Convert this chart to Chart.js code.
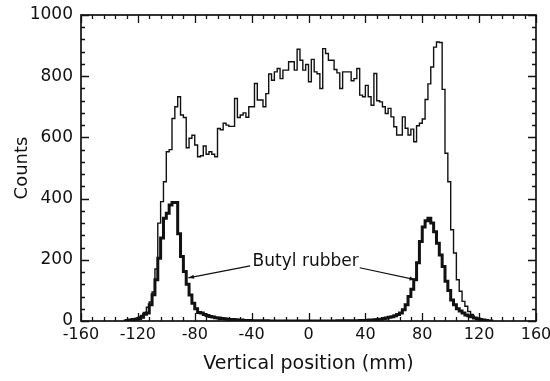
<!DOCTYPE html>
<html>
<head>
<meta charset="utf-8">
<script src="https://cdn.jsdelivr.net/npm/chart.js@4"></script>
<style>
html, body { margin: 0; padding: 0; background: #fff; }
#wrap { width: 550px; height: 381px; }
</style>
</head>
<body>
<div id="wrap"><canvas id="c" width="550" height="381"></canvas></div>
<script>
// Vertical position histogram: all events vs. butyl rubber only

// Bin left edges (mm), 2 mm bins, last entry closes the final bin
const binEdges = [
  -130,-128,-126,-124,-122,-120,-118,-116,-114,-112,
  -110,-108,-106,-104,-102,-100,-98,-96,-94,-92,
  -90,-88,-86,-84,-82,-80,-78,-76,-74,-72,
  -70,-68,-66,-64,-62,-60,-58,-56,-54,-52,
  -50,-48,-46,-44,-42,-40,-38,-36,-34,-32,
  -30,-28,-26,-24,-22,-20,-18,-16,-14,-12,
  -10,-8,-6,-4,-2,0,2,4,6,8,
  10,12,14,16,18,20,22,24,26,28,
  30,32,34,36,38,40,42,44,46,48,
  50,52,54,56,58,60,62,64,66,68,
  70,72,74,76,78,80,82,84,86,88,
  90,92,94,96,98,100,102,104,106,108,
  110,112,114,116,118,120,122,124,126,128,
  130
];

// All counts (thin line)
const totalCounts = [
  0,0,2,3,4,8,12,18,28,45,
  62,95,170,320,390,455,553,560,662,700,
  733,673,665,566,597,607,575,537,540,572,
  545,553,545,537,629,625,646,640,636,636,
  727,665,673,680,666,700,700,776,722,722,
  700,743,807,787,814,825,792,820,820,847,
  847,820,888,852,820,838,782,855,814,808,
  760,890,874,852,852,822,811,760,814,814,
  814,785,792,825,738,733,770,733,705,809,
  720,716,700,678,695,667,635,608,608,667,
  630,608,627,586,638,646,660,724,775,830,
  895,912,910,757,548,455,298,222,135,97,
  64,48,31,21,10,8,5,3,2,0
];

// Butyl rubber counts (thick line)
const butylCounts = [
  0,0,2,3,5,6,8,12,22,26,
  53,86,135,205,271,336,352,379,387,387,
  285,211,162,120,85,58,40,28,26,21,
  18,15,13,11,10,8,7,6,5,5,
  4,3,3,2,2,2,1,1,1,1,
  1,1,0,0,0,0,0,0,0,0,
  0,0,0,0,0,0,0,0,0,0,
  0,0,0,0,0,0,1,1,1,1,
  1,1,1,1,2,2,2,3,3,4,
  5,6,8,10,12,14,17,21,26,37,
  53,80,104,135,190,260,307,328,336,320,
  292,254,216,178,130,100,69,53,40,33,
  26,20,17,14,10,7,5,3,2,0
];

const xRange = [-160, 160];
const yRange = [0, 1000];
const xMajor = 40, xMinor = 8;
const yMajor = 200, yMinor = 40;

// annotation: label position and arrow tails/tips in data units
const noteText = 'Butyl rubber';
const notePos = [-2, 193];
const noteArrows = [
  { from: [-41, 180], to: [-84.5, 141] },
  { from: [36, 174], to: [75, 135] }
];

const ink = '#111';
const family = '"DejaVu Sans", sans-serif';

function steps(vals) {
  // close the last bin with a zero-height point at the final edge
  return binEdges.map((e, i) => ({ x: e, y: i < vals.length ? vals[i] : 0 }));
}

// inward tick marks on all four sides + frame
const frameTicks = {
  id: 'frameTicks',
  afterDatasetsDraw(chart) {
    const { ctx, chartArea: a, scales: { x, y } } = chart;
    ctx.save();
    ctx.strokeStyle = ink;
    ctx.lineWidth = 1.7;
    ctx.strokeRect(a.left, a.top, a.right - a.left, a.bottom - a.top);
    ctx.lineWidth = 1.3;
    ctx.beginPath();
    for (let v = xRange[0]; v <= xRange[1]; v += xMinor) {
      const px = Math.round(x.getPixelForValue(v)) + 0.5;
      const len = v % xMajor === 0 ? 8 : 4;
      ctx.moveTo(px, a.bottom); ctx.lineTo(px, a.bottom - len);
      ctx.moveTo(px, a.top); ctx.lineTo(px, a.top + len);
    }
    for (let v = yRange[0]; v <= yRange[1]; v += yMinor) {
      const py = Math.round(y.getPixelForValue(v)) + 0.5;
      const len = v % yMajor === 0 ? 8 : 4;
      ctx.moveTo(a.left, py); ctx.lineTo(a.left + len, py);
      ctx.moveTo(a.right, py); ctx.lineTo(a.right - len, py);
    }
    ctx.stroke();
    ctx.restore();
  }
};

const annotate = {
  id: 'annotate',
  afterDatasetsDraw(chart) {
    const { ctx, scales: { x, y } } = chart;
    ctx.save();
    ctx.fillStyle = ink;
    ctx.strokeStyle = ink;
    ctx.font = '17px ' + family;
    ctx.textAlign = 'center';
    ctx.textBaseline = 'middle';
    ctx.fillText(noteText, x.getPixelForValue(notePos[0]), y.getPixelForValue(notePos[1]));
    ctx.lineWidth = 1.2;
    noteArrows.forEach(ar => {
      const x0 = x.getPixelForValue(ar.from[0]), y0 = y.getPixelForValue(ar.from[1]);
      const x1 = x.getPixelForValue(ar.to[0]), y1 = y.getPixelForValue(ar.to[1]);
      ctx.beginPath();
      ctx.moveTo(x0, y0); ctx.lineTo(x1, y1);
      ctx.stroke();
      const ang = Math.atan2(y1 - y0, x1 - x0);
      ctx.beginPath();
      ctx.moveTo(x1, y1);
      ctx.lineTo(x1 - 6 * Math.cos(ang - 0.35), y1 - 6 * Math.sin(ang - 0.35));
      ctx.lineTo(x1 - 6 * Math.cos(ang + 0.35), y1 - 6 * Math.sin(ang + 0.35));
      ctx.closePath();
      ctx.fill();
    });
    ctx.restore();
  }
};

new Chart(document.getElementById('c'), {
  type: 'line',
  data: {
    datasets: [
      {
        label: 'Butyl rubber',
        data: steps(butylCounts),
        stepped: 'after',
        borderColor: ink,
        borderWidth: 3,
        pointRadius: 0,
        fill: false
      },
      {
        label: 'All',
        data: steps(totalCounts),
        stepped: 'after',
        borderColor: ink,
        borderWidth: 1.4,
        pointRadius: 0,
        fill: false
      }
    ]
  },
  options: {
    responsive: false,
    animation: false,
    devicePixelRatio: 1,
    layout: { padding: { top: 15, right: 14, left: 0, bottom: 0 } },
    plugins: { legend: { display: false }, tooltip: { enabled: false } },
    scales: {
      x: {
        type: 'linear',
        min: xRange[0], max: xRange[1],
        grid: { display: false, drawTicks: false },
        border: { display: false },
        ticks: {
          stepSize: xMajor, color: ink, padding: 4, maxRotation: 0, autoSkip: false,
          font: { family: family, size: 16 },
          callback: v => String(v)
        },
        title: {
          display: true, text: 'Vertical position (mm)', color: ink,
          font: { family: family, size: 19 }, padding: { top: 0, bottom: 6 }
        },
        afterFit(s) { s.height = 60; s.paddingLeft = 0; s.paddingRight = 0; }
      },
      y: {
        min: yRange[0], max: yRange[1],
        grid: { display: false, drawTicks: false },
        border: { display: false },
        ticks: {
          stepSize: yMajor, color: ink, padding: 8,
          font: { family: family, size: 17 },
          callback: v => String(v)
        },
        title: {
          display: true, text: 'Counts', color: ink,
          font: { family: family, size: 18 }, padding: { top: 12, bottom: 0 }
        },
        afterFit(s) { s.width = 81; s.paddingTop = 0; s.paddingBottom = 0; }
      }
    }
  },
  plugins: [frameTicks, annotate]
});
</script>
</body>
</html>
